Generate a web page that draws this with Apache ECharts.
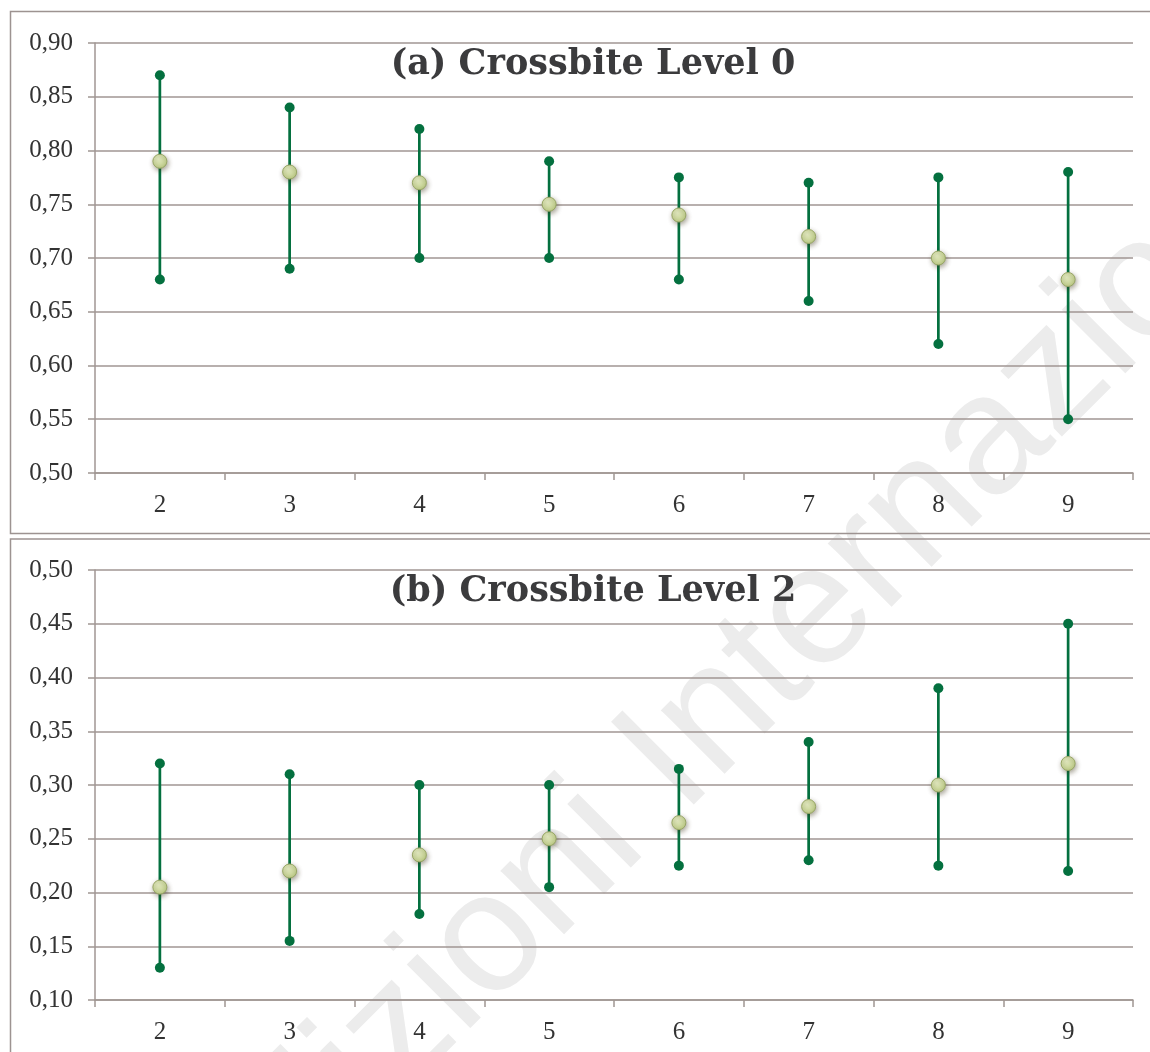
<!DOCTYPE html>
<html>
<head>
<meta charset="utf-8">
<script src="https://cdn.jsdelivr.net/npm/echarts@6/dist/echarts.min.js"></script>
<style>
  html, body { margin: 0; padding: 0; background: #fff; }
  #chart { width: 1150px; height: 1052px; }
</style>
</head>
<body>
<div id="chart"></div>
<script>
// categories (x axis)
var categories = ['2', '3', '4', '5', '6', '7', '8', '9'];

// (a) Crossbite Level 0
var meanA = [0.79, 0.78, 0.77, 0.75, 0.74, 0.72, 0.70, 0.68];
var lowA  = [0.68, 0.69, 0.70, 0.70, 0.68, 0.66, 0.62, 0.55];
var highA = [0.87, 0.84, 0.82, 0.79, 0.775, 0.77, 0.775, 0.78];

// (b) Crossbite Level 2
var meanB = [0.205, 0.22, 0.235, 0.25, 0.265, 0.28, 0.30, 0.32];
var lowB  = [0.13, 0.155, 0.18, 0.205, 0.225, 0.23, 0.225, 0.22];
var highB = [0.32, 0.31, 0.30, 0.30, 0.315, 0.34, 0.39, 0.45];

// y axis ranges
var yRangeA = [0.50, 0.90];
var yRangeB = [0.10, 0.50];
var yStep = 0.05;

var titles = ['(a) Crossbite Level 0', '(b) Crossbite Level 2'];

var green = '#04703f';
var gridColor = '#a09693';
var labelFont = 'Liberation Serif';
var titleFont = 'DejaVu Serif';

var myChart = echarts.init(document.getElementById('chart'));

function xAxisFor(idx) {
  return {
    type: 'category',
    gridIndex: idx,
    data: categories,
    boundaryGap: true,
    axisLine: { lineStyle: { color: gridColor, width: 1.5 } },
    axisTick: { show: true, length: 7, lineStyle: { color: gridColor, width: 1.5 } },
    axisLabel: { color: '#333333', fontSize: 25, fontFamily: labelFont, margin: 20 },
    splitLine: { show: false }
  };
}

function yAxisFor(idx, range) {
  return {
    type: 'value',
    gridIndex: idx,
    min: range[0],
    max: range[1],
    interval: yStep,
    axisLine: { show: true, lineStyle: { color: gridColor, width: 1.5 } },
    axisTick: { show: true, length: 7, lineStyle: { color: gridColor, width: 1.5 } },
    axisLabel: {
      color: '#333333', fontSize: 25, fontFamily: labelFont, margin: 22,
      formatter: function (v) { return v.toFixed(2).replace('.', ','); }
    },
    splitLine: { show: true, lineStyle: { color: gridColor, width: 1.5 } }
  };
}

// 均值点样式
var meanStyle = {
  opacity: 1,
  color: {
    type: 'radial', x: 0.4, y: 0.35, r: 0.7,
    colorStops: [
      { offset: 0, color: '#e6edc4' },
      { offset: 1, color: '#bccb84' }
    ]
  },
  borderColor: '#98a666',
  borderWidth: 1,
  shadowBlur: 5,
  shadowColor: 'rgba(60,50,20,0.45)',
  shadowOffsetX: 1,
  shadowOffsetY: 2
};

function whiskerSeries(idx, low, high) {
  return {
    type: 'custom',
    xAxisIndex: idx,
    yAxisIndex: idx,
    z: 3,
    renderItem: function (params, api) {
      var p1 = api.coord([api.value(0), api.value(1)]);
      var p2 = api.coord([api.value(0), api.value(2)]);
      return {
        type: 'line',
        shape: { x1: p1[0], y1: p1[1], x2: p2[0], y2: p2[1] },
        style: { stroke: green, lineWidth: 2.7 }
      };
    },
    encode: { x: 0, y: [1, 2] },
    data: categories.map(function (c, i) { return [i, low[i], high[i]]; })
  };
}

function dotSeries(idx, vals) {
  return {
    type: 'scatter',
    xAxisIndex: idx,
    yAxisIndex: idx,
    z: 4,
    symbol: 'circle',
    symbolSize: 10,
    itemStyle: { color: green, opacity: 1 },
    data: categories.map(function (c, i) { return [i, vals[i]]; })
  };
}

function meanSeries(idx, vals) {
  return {
    type: 'scatter',
    xAxisIndex: idx,
    yAxisIndex: idx,
    z: 5,
    symbol: 'circle',
    symbolSize: 14,
    itemStyle: meanStyle,
    data: categories.map(function (c, i) { return [i, vals[i]]; })
  };
}

var option = {
  backgroundColor: '#ffffff',
  animation: false,
  title: [
    {
      text: titles[0], left: 588, top: 42, textAlign: 'center',
      textStyle: { fontFamily: titleFont, fontWeight: 'bold', fontSize: 35, color: '#3b3b3d' }
    },
    {
      text: titles[1], left: 588, top: 569, textAlign: 'center',
      textStyle: { fontFamily: titleFont, fontWeight: 'bold', fontSize: 35, color: '#3b3b3d' }
    }
  ],
  graphic: [
    {
      type: 'text', x: 780, y: 652, rotation: Math.PI / 4, z: -10, silent: true,
      style: {
        text: 'Edizioni Internazionali',
        font: '170px "Liberation Sans"',
        fill: '#ececec',
        align: 'center',
        verticalAlign: 'middle'
      }
    },
    {
      type: 'rect', z: -5, silent: true,
      shape: { x: 10.5, y: 11.5, width: 1200, height: 522 },
      style: { fill: 'none', stroke: '#9d9391', lineWidth: 1.5 }
    },
    {
      type: 'rect', z: -5, silent: true,
      shape: { x: 10.5, y: 539, width: 1200, height: 600 },
      style: { fill: 'none', stroke: '#9d9391', lineWidth: 1.5 }
    }
  ],
  grid: [
    { left: 95, right: 17, top: 43, height: 430 },
    { left: 95, right: 17, top: 570, height: 430 }
  ],
  xAxis: [xAxisFor(0), xAxisFor(1)],
  yAxis: [yAxisFor(0, yRangeA), yAxisFor(1, yRangeB)],
  series: [
    whiskerSeries(0, lowA, highA),
    dotSeries(0, lowA),
    dotSeries(0, highA),
    meanSeries(0, meanA),
    whiskerSeries(1, lowB, highB),
    dotSeries(1, lowB),
    dotSeries(1, highB),
    meanSeries(1, meanB)
  ]
};

myChart.setOption(option);
</script>
</body>
</html>
